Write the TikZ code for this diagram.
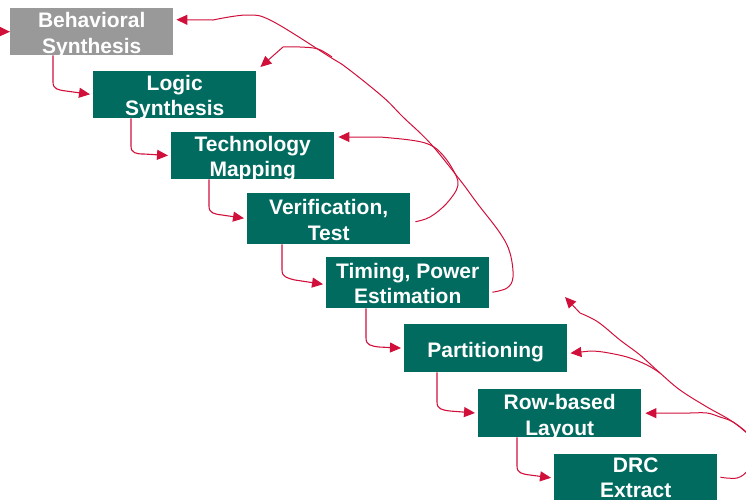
\documentclass[tikz,border=0pt]{standalone}
\usepackage{fontspec}
\setmainfont{Liberation Sans}
\usetikzlibrary{arrows.meta,calc}
\definecolor{boxteal}{RGB}{0,107,94}
\definecolor{boxgray}{RGB}{153,153,153}
\definecolor{arrred}{RGB}{208,16,58}
\begin{document}
\begin{tikzpicture}[x=1pt,y=-1pt,
  box/.style={fill=boxteal, minimum width=163pt, minimum height=47pt, inner sep=0pt, anchor=north west},
  lbl/.style={text=white, font=\fontsize{21}{25.5}\selectfont\bfseries, align=center, inner sep=0pt, anchor=north},
  stepar/.style={draw=arrred, line width=1.1pt, -{Triangle[length=11pt,width=10pt]}, shorten >=3pt},
  fb/.style={draw=arrred, line width=1pt},
  fbar/.style={fb, -{Triangle[length=11pt,width=10pt]}}]
\useasboundingbox (0,0) rectangle (746,499);
\clip (0,0) rectangle (746,499);

% boxes
\node[box, fill=boxgray] (b1) at (10,8) {};
\node[box] (b2) at (93,71) {};
\node[box] (b3) at (171,132) {};
\node[box, minimum height=51pt] (b4) at (247,193) {};
\node[box, minimum height=51pt] (b5) at (326,257) {};
\node[box, minimum height=48pt] (b6) at (404,324) {};
\node[box, minimum height=48pt] (b7) at (478,389) {};
\node[box, minimum height=48pt] (b8) at (554,454) {};

% labels
\node[lbl] (t1) at ([yshift=-4.3pt]b1.north) {Behavioral\\Synthesis};
\node[lbl] (t2) at ([yshift=-4pt]b2.north) {Logic\\Synthesis};
\node[lbl] (t3) at ([yshift=-4pt]b3.north) {Technology\\Mapping};
\node[lbl] (t4) at ([yshift=-6.5pt]b4.north) {Verification,\\Test};
\node[lbl] (t5) at ([yshift=-6pt]b5.north) {Timing, Power\\Estimation};
\node[lbl] (t6) at ([yshift=-17.7pt]b6.north) {Partitioning};
\node[lbl] (t7) at ([yshift=-5.3pt]b7.north) {Row-based\\Layout};
\node[lbl] (t8) at ([yshift=-3.3pt]b8.north) {DRC\\Extract};

% incoming arrow
\coordinate (in0) at (-6,31.5);
\draw[stepar, shorten >=0pt] (in0) -- (b1.west);

% step connectors
\draw[stepar] ([xshift=43pt]b1.south west) -- (53,82) .. controls (53,89) and (58,90) .. (66,91) -- (b2.west);
\draw[stepar] ([xshift=38pt]b2.south west) -- (131,146) .. controls (131,153) and (136,154) .. (144,154) -- (b3.west);
\draw[stepar] ([xshift=38pt]b3.south west) -- (209,206) .. controls (209,213) and (214,214) .. (222,215) -- (b4.west);
\draw[stepar] ([xshift=35pt]b4.south west) -- (282,270) .. controls (282,277) and (287,278) .. (295,280) -- ([yshift=-2pt]b5.west);
\draw[stepar] ([xshift=40pt]b5.south west) -- (366,338) .. controls (366,345) and (371,346) .. (379,347) -- (b6.west);
\draw[stepar] ([xshift=33pt]b6.south west) -- (437,402) .. controls (437,409) and (442,410) .. (450,411) -- (b7.west);
\draw[stepar] ([xshift=39pt]b7.south west) -- (517,466) .. controls (517,473) and (522,474) .. (530,475) -- (b8.west);

% feedback connectors (upper)
\coordinate (a0) at ([shift={(3pt,-9.5pt)}]b5.east);
\coordinate (a1) at ([shift={(3pt,12pt)}]b1.east);
\draw[fbar] plot[smooth, tension=0.6] coordinates {(a0) (507,288) (513,277) (510,253) (500,233) (477,203) (460,180) (430,143) (403,117) (383,97) (347,68) (330,57) (272,21) (247,15) (213,20)} -- (a1);

\coordinate (v0) at ([shift={(5pt,-3pt)}]b4.east);
\coordinate (v1) at ([shift={(4pt,-5pt)}]b3.north east);
\draw[fbar] plot[smooth, tension=0.6] coordinates {(v0) (430,217) (447,203) (458,185) (452,168) (440,152) (428,144) (410,140) (380,137)} -- (v1);

\coordinate (m1) at (332,57);
\coordinate (l1) at ([shift={(4pt,4pt)}]b2.north east);
\draw[fbar] plot[smooth, tension=0.6] coordinates {(m1) (318,49) (300,47) (283,47)} -- (l1);

% feedback connectors (lower)
\coordinate (d0) at ([shift={(3pt,1pt)}]b8.east);
\coordinate (d1) at (565,297);
\draw[fbar] plot[smooth, tension=0.6] coordinates {(d0) (737,478) (748,470) (757,452) (748,434) (730,420) (707,407) (680,390) (660,373) (640,355) (620,340) (598,322) (580,313)} -- (d1);

\coordinate (p1) at ([shift={(3pt,-5pt)}]b6.east);
\draw[fbar] plot[smooth, tension=0.6] coordinates {(660,373) (647,365) (627,357) (603,352) (590,351)} -- (p1);

\coordinate (r1) at ([xshift=4pt]b7.east);
\draw[fbar] plot[smooth, tension=0.6] coordinates {(748,434) (733,422) (720,417) (707,413) (690,413)} -- (r1);
\end{tikzpicture}
\end{document}
